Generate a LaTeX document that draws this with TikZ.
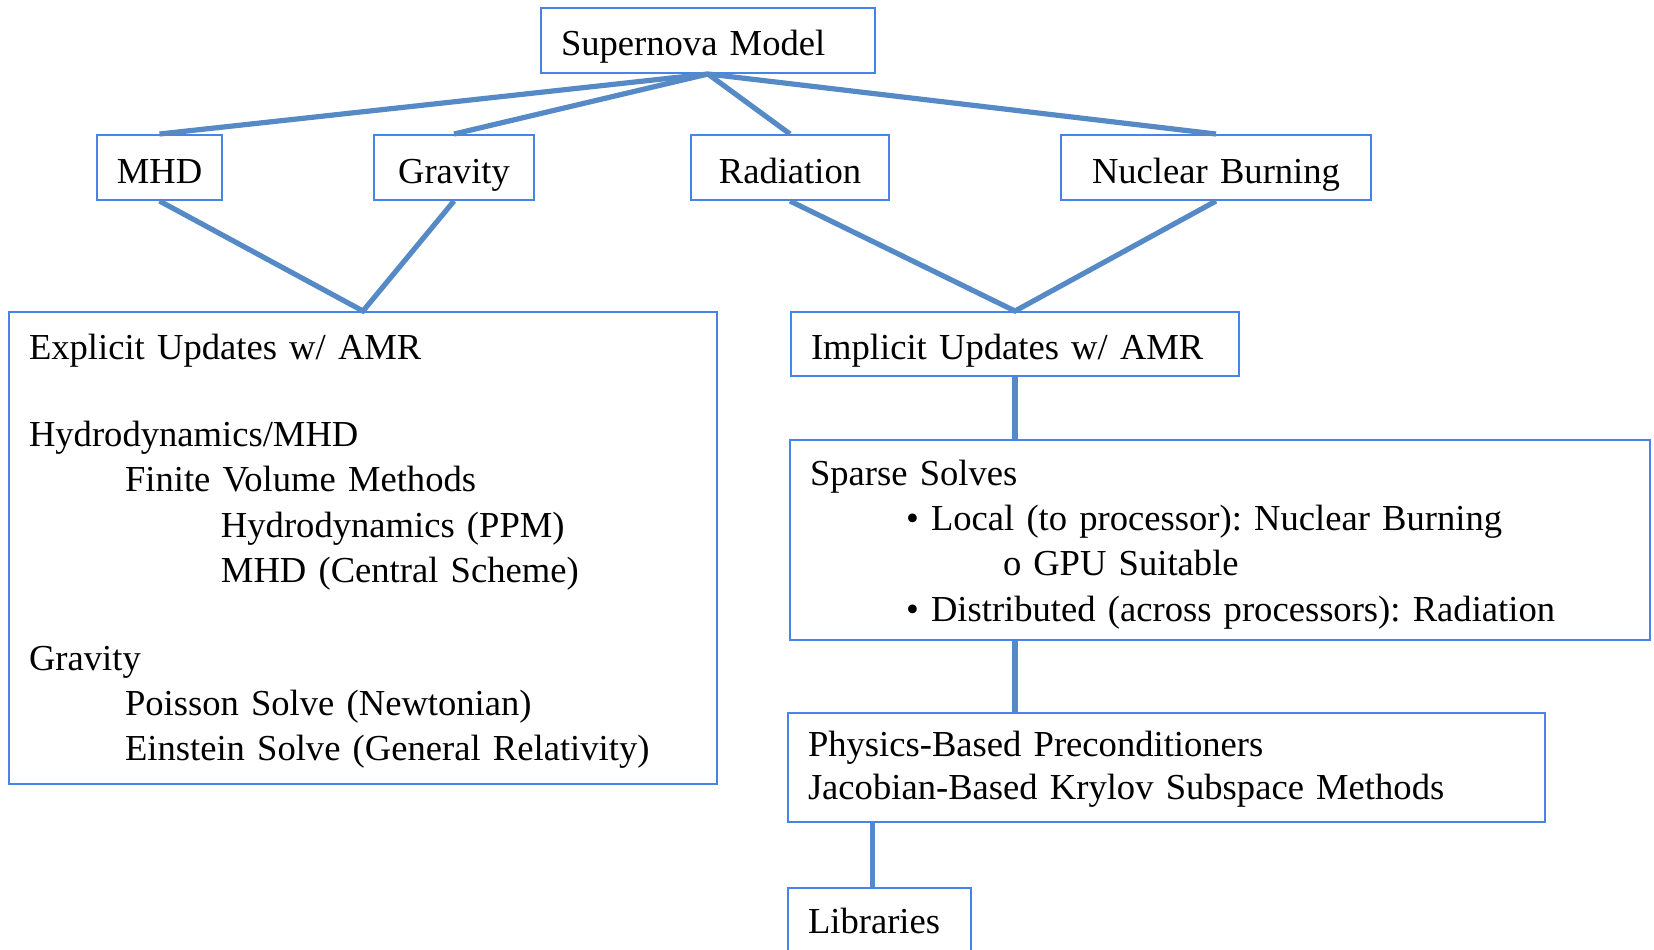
\documentclass[tikz,border=0pt]{standalone}
\usepackage{fontspec}
\setmainfont{Liberation Serif}
\usetikzlibrary{calc}
\definecolor{boxBlue}{RGB}{72,132,232}
\definecolor{linkBlue}{RGB}{86,138,198}

\begin{document}
\begin{tikzpicture}[
  x=0.5pt, y=-0.5pt,
  font=\fontsize{18.3pt}{22.7pt}\selectfont\frenchspacing,
  box/.style={draw=boxBlue,line width=1pt,anchor=north west,align=left,
              inner xsep=10pt,inner ysep=0pt},
  tag/.style={box,align=center,inner xsep=4pt,text height=24pt,text depth=8.5pt},
  link/.style={draw=linkBlue,line width=2.6pt}
]
\useasboundingbox (0,0) rectangle (1654,949);
\clip (0,0) rectangle (1654,949);

% ==========  Top  ==========
\node[box,text width=147pt,text height=23.5pt,text depth=9pt] (model) at (540,7)
  {Supernova Model};

% ==========  Physics row  ==========
\node[tag,text width=54.5pt] (mhd)  at (96,134)   {MHD};
\node[tag,text width=72pt]   (grav) at (373,134)  {Gravity};
\node[tag,text width=91pt]   (rad)  at (690,134)  {Radiation};
\node[tag,text width=147pt]  (nuc)  at (1060,134) {Nuclear Burning};

% ==========  Explicit side  ==========
\node[box,text width=334pt,text height=23.5pt,text depth=212.5pt] (expl) at (8,311)
  {Explicit Updates w/ AMR\\[21pt]
   Hydrodynamics/MHD\\
   \hspace*{48pt}Finite Volume Methods\\
   \hspace*{96pt}Hydrodynamics (PPM)\\
   \hspace*{96pt}MHD (Central Scheme)\\[21pt]
   Gravity\\
   \hspace*{48pt}Poisson Solve (Newtonian)\\
   \hspace*{48pt}Einstein Solve (General Relativity)};

% ==========  Implicit side  ==========
\node[box,text width=204pt,text height=23.5pt,text depth=8.5pt] (impl) at (790,311)
  {Implicit Updates w/ AMR};

\node[box,text width=410pt,text height=22.5pt,text depth=77.5pt] (sparse) at (789,439)
  {Sparse Solves\\
   \hspace*{48pt}\textbullet\ Local (to processor): Nuclear Burning\\
   \hspace*{96.5pt}o\hspace{6pt}GPU Suitable\\
   \hspace*{48pt}\textbullet\ Distributed (across processors): Radiation};

\node[box,text width=358.5pt,text height=21.5pt,text depth=33pt] (precond) at (787,712)
  {Physics-Based Preconditioners\\[-1.2pt]
   Jacobian-Based Krylov Subspace Methods};

\node[box,text width=71.5pt,text height=22.5pt,text depth=20pt] (libs) at (787,887)
  {Libraries};

% ==========  Links  ==========
\foreach \kid in {mhd,grav,rad,nuc}
  \draw[link] (model.south) -- (\kid.north);
\draw[link] (mhd.south) -- (expl.north) -- (grav.south);
\draw[link] (rad.south) -- (impl.north) -- (nuc.south);
\draw[link] (impl.south) -- (impl.south |- sparse.north);
\draw[link] (impl.south |- sparse.south) -- (impl.south |- precond.north);
\draw[link] ($(libs.north)+(-7,0)$) -- ($(libs.north |- precond.south)+(-7,0)$);

\end{tikzpicture}
\end{document}
